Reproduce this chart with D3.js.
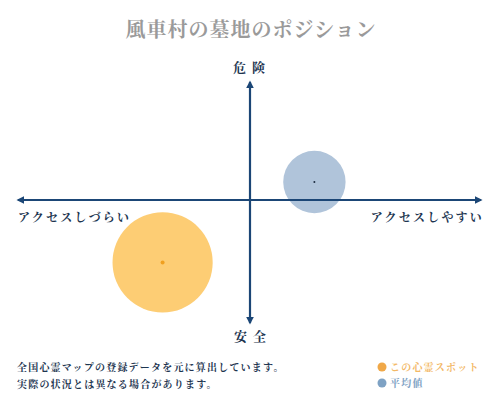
<!DOCTYPE html>
<html>
<head>
<meta charset="utf-8">
<script src="https://cdn.jsdelivr.net/npm/d3@7"></script>
<style>
  body { margin: 0; background: #fff; }
  svg { display: block; }
  text { font-family: "Noto Serif CJK JP", "Noto Sans CJK JP", sans-serif; }
</style>
</head>
<body>
<div id="chart"></div>
<script>
// chart data
var spotNames = ["この心霊スポット", "平均値"];
var accessScores = [-3.8, 2.8];   // x: アクセスしづらい(-) .. アクセスしやすい(+)
var dangerScores = [-5.2, 1.5];   // y: 安全(-) .. 危険(+)
var spotSizes = [2.45, 0.95];     // bubble weight
var axisLabels = ["アクセスしづらい", "アクセスしやすい", "危険", "安全"];
var noteLines = ["全国心霊マップの登録データを元に算出しています。", "実際の状況とは異なる場合があります。"];

var width = 500, height = 400;
var fills = ["#fdcd74", "#b0c4da"];
var dots = ["#f0a020", "#1c2b40"];
var legendColors = ["#f0a848", "#7ea2c4"];
var axisColor = "#1b4676";

var svg = d3.select("#chart").append("svg")
    .attr("width", width)
    .attr("height", height);

var x = d3.scaleLinear().domain([-10, 10]).range([20, 480]);
var y = d3.scaleLinear().domain([-10, 10]).range([320, 80]);
var r = d3.scaleSqrt().domain([0, 1]).range([0, 32]);

// title
svg.append("text")
    .attr("x", 251)
    .attr("y", 37)
    .attr("text-anchor", "middle")
    .attr("font-size", 20)
    .attr("font-weight", "bold")
    .attr("letter-spacing", 1)
    .attr("fill", "#9a9a9a")
    .text("風車村の墓地のポジション");

// bubbles
var bubbles = svg.append("g").selectAll("g")
    .data(spotNames)
    .enter().append("g");

bubbles.append("circle")
    .attr("cx", function(d, i) { return x(accessScores[i]); })
    .attr("cy", function(d, i) { return y(dangerScores[i]); })
    .attr("r", function(d, i) { return r(spotSizes[i]); })
    .attr("fill", function(d, i) { return fills[i]; });

bubbles.append("circle")
    .attr("cx", function(d, i) { return x(accessScores[i]); })
    .attr("cy", function(d, i) { return y(dangerScores[i]); })
    .attr("r", function(d, i) { return i == 0 ? 2 : 1; })
    .attr("fill", function(d, i) { return dots[i]; });

// axes with arrowheads
var defs = svg.append("defs");
defs.append("marker")
    .attr("id", "arrow")
    .attr("viewBox", "0 0 10 10")
    .attr("refX", 8).attr("refY", 5)
    .attr("markerWidth", 3.6).attr("markerHeight", 3.6)
    .attr("orient", "auto-start-reverse")
  .append("path")
    .attr("d", "M0,0 L10,5 L0,10 z")
    .attr("fill", axisColor);

svg.append("line")
    .attr("x1", x(-10) - 2).attr("x2", x(10) + 1)
    .attr("y1", y(0)).attr("y2", y(0))
    .attr("stroke", axisColor).attr("stroke-width", 2.2)
    .attr("marker-start", "url(#arrow)")
    .attr("marker-end", "url(#arrow)");

svg.append("line")
    .attr("x1", x(0)).attr("x2", x(0))
    .attr("y1", y(10) + 2).attr("y2", y(-10) + 3)
    .attr("stroke", axisColor).attr("stroke-width", 2.2)
    .attr("marker-start", "url(#arrow)")
    .attr("marker-end", "url(#arrow)");

// axis labels
function label(txt, px, py, anchor, size, spacing) {
    svg.append("text")
        .attr("x", px).attr("y", py)
        .attr("text-anchor", anchor)
        .attr("font-size", size)
        .attr("font-weight", "bold")
        .attr("letter-spacing", spacing)
        .attr("fill", "#1d3550")
        .text(txt);
}
label(axisLabels[0], 18, 222, "start", 12, 2.2);
label(axisLabels[1], 484, 222, "end", 12, 2.2);
label(axisLabels[2], 252, 72, "middle", 13, 6);
label(axisLabels[3], 253, 341, "middle", 13, 6);

// notes
svg.append("g").selectAll("text")
    .data(noteLines)
    .enter().append("text")
    .attr("x", 17)
    .attr("y", function(d, i) { return 371 + i * 17; })
    .attr("font-size", 10)
    .attr("font-weight", "bold")
    .attr("letter-spacing", 1.2)
    .attr("fill", "#1d3550")
    .text(function(d) { return d; });

// legend
var legend = svg.append("g").selectAll("g")
    .data(spotNames)
    .enter().append("g")
    .attr("transform", function(d, i) { return "translate(382," + (367 + i * 16) + ")"; });

legend.append("circle")
    .attr("r", 4.5)
    .attr("fill", function(d, i) { return legendColors[i]; });

legend.append("text")
    .attr("x", 8)
    .attr("y", 4)
    .attr("font-size", 10)
    .attr("font-weight", "bold")
    .attr("letter-spacing", 1.2)
    .attr("fill", function(d, i) { return i == 0 ? "#f3b866" : "#7ea2c4"; })
    .text(function(d) { return d; });
</script>
</body>
</html>
